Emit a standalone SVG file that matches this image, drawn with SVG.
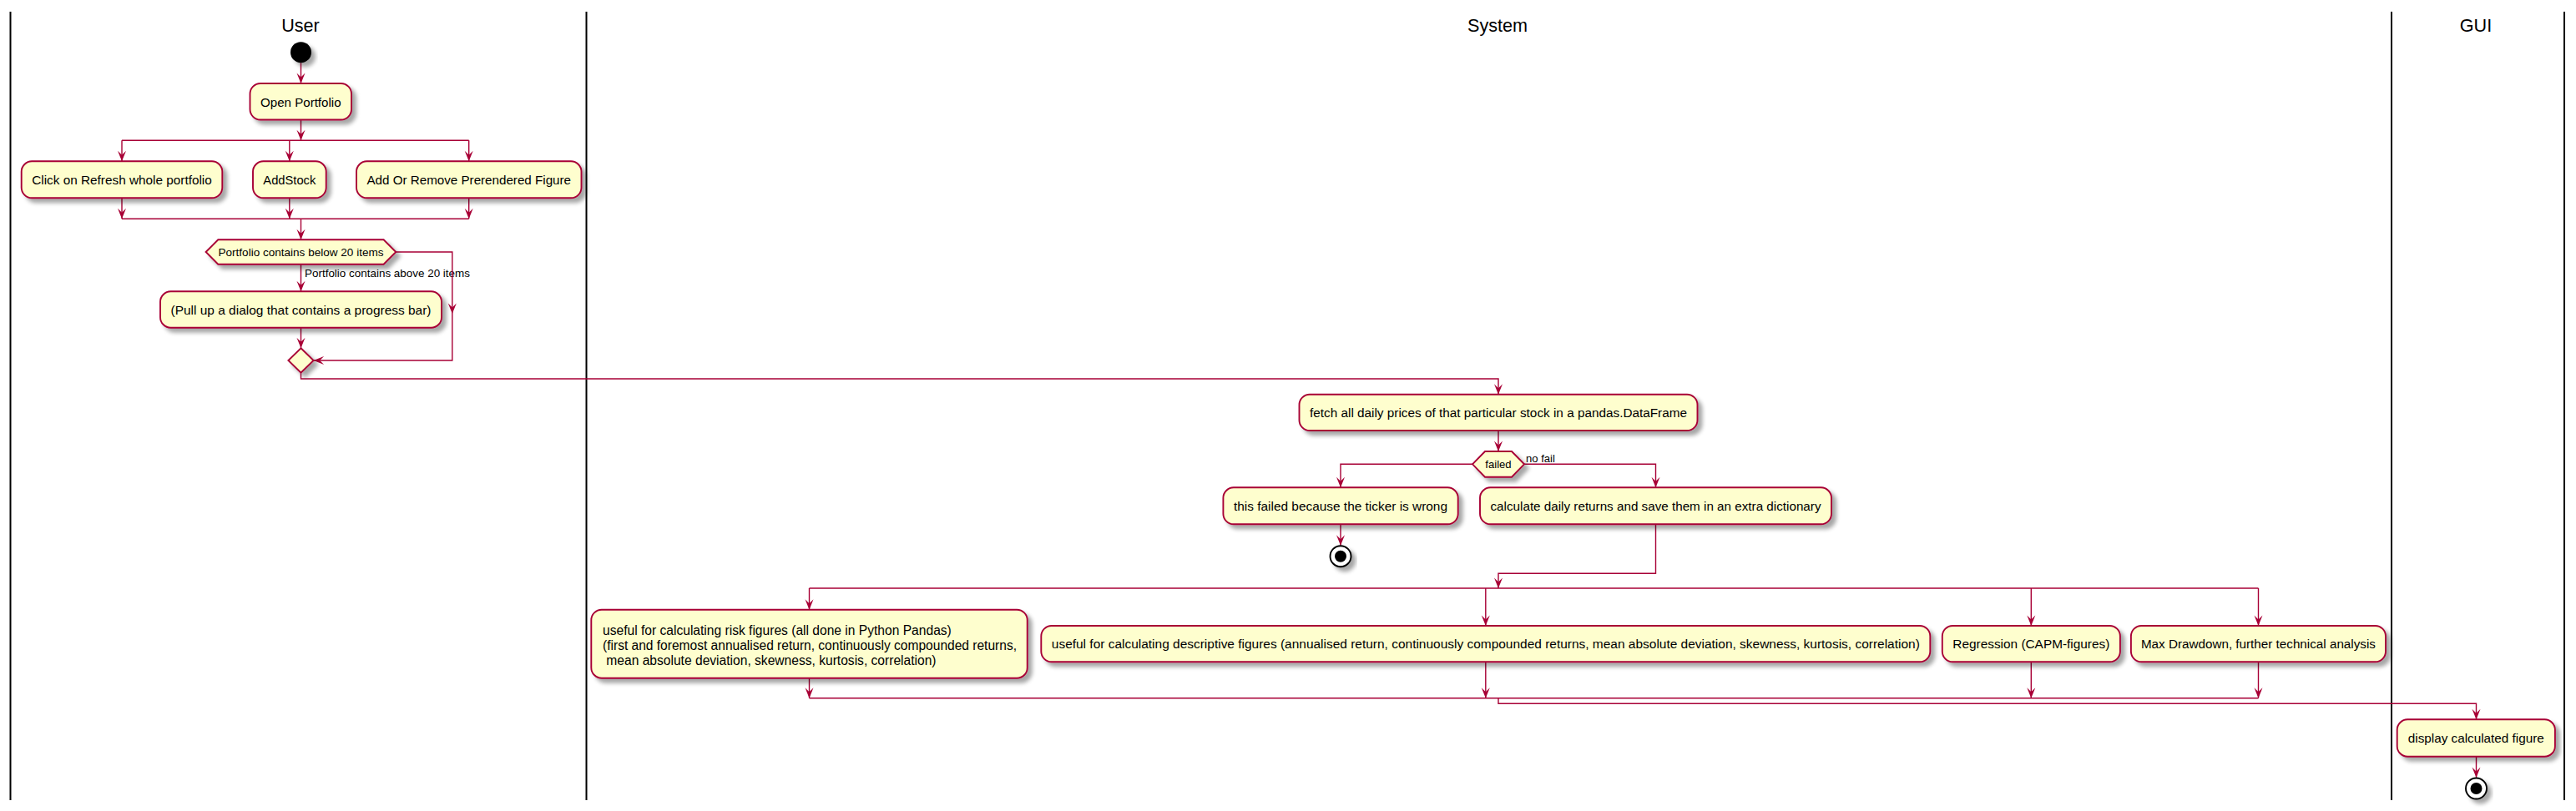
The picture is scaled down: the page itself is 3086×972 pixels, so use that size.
<svg xmlns="http://www.w3.org/2000/svg" width="3086" height="972" viewBox="0 0 3086 972">
<defs>
<style>
.lane{stroke:#000;stroke-width:2;fill:none}
.title{font-family:"Liberation Sans",Arial,sans-serif;font-size:21.6px;fill:#000;text-anchor:middle}
.box{fill:#FEFECE;stroke:#A80036;stroke-width:1.9}
.sh{filter:url(#sh)}
.t{font-family:"Liberation Sans",Arial,sans-serif;font-size:15.3px;fill:#000;text-anchor:middle}
.tl{font-family:"Liberation Sans",Arial,sans-serif;font-size:15.6px;fill:#000;text-anchor:start}
.d{font-family:"Liberation Sans",Arial,sans-serif;font-size:13.1px;fill:#000;text-anchor:middle}
.dl{font-family:"Liberation Sans",Arial,sans-serif;font-size:13.1px;fill:#000;text-anchor:start}
.c{fill:none;stroke:#A80036;stroke-width:1.4}
.ca{fill:none;stroke:#A80036;stroke-width:1.4;marker-end:url(#arr)}
.ah{fill:#A80036}
</style>
<filter id="sh" x="-20%" y="-20%" width="150%" height="170%">
<feGaussianBlur in="SourceAlpha" stdDeviation="2.5" result="b"/>
<feOffset dx="5" dy="5" in="b" result="o"/>
<feComponentTransfer in="o" result="s"><feFuncA type="linear" slope="0.35"/></feComponentTransfer>
<feMerge><feMergeNode in="s"/><feMergeNode in="SourceGraphic"/></feMerge>
</filter>
<marker id="arr" markerUnits="userSpaceOnUse" markerWidth="14" markerHeight="12" orient="auto" overflow="visible" refX="0" refY="0">
<path d="M0,0 L-12.5,-5 L-7.5,0 L-12.5,5 Z" fill="#A80036"/>
</marker>
<path id="ahd" d="M0,0 L-5,-12.5 L0,-7.5 L5,-12.5 Z"/>
</defs>
<rect width="3086" height="972" fill="#fff"/>

<g id="lanes">
<line class="lane" x1="12.5" y1="14" x2="12.5" y2="959"/>
<line class="lane" x1="702.5" y1="14" x2="702.5" y2="959"/>
<line class="lane" x1="2865" y1="14" x2="2865" y2="959"/>
<line class="lane" x1="3072" y1="14" x2="3072" y2="959"/>
<text class="title" x="360" y="38">User</text>
<text class="title" x="1794" y="38">System</text>
<text class="title" x="2966" y="38">GUI</text>
</g>

<g id="connectors">
<path class="ca" d="M360.5,75.2 V100"/>
<path class="ca" d="M360.5,143.5 V168.3"/>
<path class="c" d="M146,168.3 H561.7"/>
<path class="ca" d="M146,168.3 V193.3"/>
<path class="ca" d="M346.8,168.3 V193.3"/>
<path class="ca" d="M561.7,168.3 V193.3"/>
<path class="ca" d="M146,237.3 V262.3"/>
<path class="ca" d="M346.8,237.3 V262.3"/>
<path class="ca" d="M561.7,237.3 V262.3"/>
<path class="c" d="M146,262.3 H561.7"/>
<path class="ca" d="M360.5,262.3 V287.3"/>
<path class="ca" d="M360.5,316.7 V349.3"/>
<text class="dl" x="365" y="331.7" textLength="198" lengthAdjust="spacingAndGlyphs">Portfolio contains above 20 items</text>
<path class="ca" d="M474.3,302 H541.8 V432 H375.6"/>
<use href="#ahd" class="ah" x="541.8" y="376"/>
<path class="ca" d="M360.5,392.7 V417.3"/>
<path class="ca" d="M360.5,446.7 V454 H1795 V472.7"/>
<path class="ca" d="M1795,516 V541"/>
<path class="ca" d="M1764,556.3 H1606 V584.3"/>
<path class="ca" d="M1826,556.3 H1983.5 V584.3"/>
<text class="dl" x="1828" y="553.5">no fail</text>
<path class="ca" d="M1606,628.3 V653.7"/>
<path class="ca" d="M1983.5,628.3 V687.3 H1795 V705"/>
<path class="c" d="M969.5,705 H2705.5"/>
<path class="ca" d="M969.5,705 V730.7"/>
<path class="ca" d="M1779.8,705 V750"/>
<path class="ca" d="M2433.3,705 V750"/>
<path class="ca" d="M2705.5,705 V750"/>
<path class="ca" d="M969.5,812.7 V836.7"/>
<path class="ca" d="M1779.8,793.3 V836.7"/>
<path class="ca" d="M2433.3,793.3 V836.7"/>
<path class="ca" d="M2705.5,793.3 V836.7"/>
<path class="c" d="M969.5,836.7 H2705.5"/>
<path class="ca" d="M1795,836.7 V843.3 H2966.5 V862.3"/>
<path class="ca" d="M2966.5,906.7 V932"/>
</g>

<g id="start">
<circle class="sh" cx="360.5" cy="62.7" r="12.5" fill="#000"/>
</g>
<g id="open_portfolio">
<rect class="box sh" x="299.5" y="100" width="121.5" height="43.5" rx="12.5"/>
<text class="t" x="360.3" y="127.5" textLength="96.5" lengthAdjust="spacingAndGlyphs">Open Portfolio</text>
</g>
<g id="refresh">
<rect class="box sh" x="25.7" y="193.3" width="240.6" height="44" rx="12.5"/>
<text class="t" x="146" y="220.8" textLength="215.6" lengthAdjust="spacingAndGlyphs">Click on Refresh whole portfolio</text>
</g>
<g id="addstock">
<rect class="box sh" x="303" y="193.3" width="87.7" height="44" rx="12.5"/>
<text class="t" x="346.85" y="220.8" textLength="63" lengthAdjust="spacingAndGlyphs">AddStock</text>
</g>
<g id="add_remove">
<rect class="box sh" x="427" y="193.3" width="269.5" height="44" rx="12.5"/>
<text class="t" x="561.75" y="220.8" textLength="244.5" lengthAdjust="spacingAndGlyphs">Add Or Remove Prerendered Figure</text>
</g>
<g id="decision_items">
<polygon class="box sh" points="246.6,302 261.3,287.3 459.6,287.3 474.3,302 459.6,316.7 261.3,316.7"/>
<text class="d" x="360.5" y="306.6" textLength="198" lengthAdjust="spacingAndGlyphs">Portfolio contains below 20 items</text>
</g>
<g id="pull_up">
<rect class="box sh" x="192" y="349.3" width="337" height="43.4" rx="12.5"/>
<text class="t" x="360.5" y="376.6" textLength="312" lengthAdjust="spacingAndGlyphs">(Pull up a dialog that contains a progress bar)</text>
</g>
<g id="merge">
<polygon class="box sh" points="360.5,417.3 375.6,432 360.5,446.7 345.4,432"/>
</g>
<g id="fetch">
<rect class="box sh" x="1556.5" y="472.7" width="477" height="43.3" rx="12.5"/>
<text class="t" x="1795" y="499.9" textLength="452" lengthAdjust="spacingAndGlyphs">fetch all daily prices of that particular stock in a pandas.DataFrame</text>
</g>
<g id="decision_failed">
<polygon class="box sh" points="1764,556.3 1779,541 1811,541 1826,556.3 1811,571.7 1779,571.7"/>
<text class="d" x="1795" y="561">failed</text>
</g>
<g id="ticker_wrong">
<rect class="box sh" x="1465.4" y="584.3" width="281.3" height="44" rx="12.5"/>
<text class="t" x="1606" y="611.8" textLength="256" lengthAdjust="spacingAndGlyphs">this failed because the ticker is wrong</text>
</g>
<g id="stop1" class="sh">
<circle cx="1606" cy="666.7" r="12.5" fill="#fff" stroke="#000" stroke-width="1.9"/>
<circle cx="1606" cy="666.7" r="7" fill="#000"/>
</g>
<g id="calc_returns">
<rect class="box sh" x="1773" y="584.3" width="421" height="44" rx="12.5"/>
<text class="t" x="1983.5" y="611.8" textLength="396" lengthAdjust="spacingAndGlyphs">calculate daily returns and save them in an extra dictionary</text>
</g>
<g id="risk">
<rect class="box sh" x="708.3" y="730.7" width="522.4" height="82" rx="12.5"/>
<text class="tl" x="722" y="760.5">useful for calculating risk figures (all done in Python Pandas)</text>
<text class="tl" x="722" y="778.8" textLength="496" lengthAdjust="spacingAndGlyphs">(first and foremost annualised return, continuously compounded returns,</text>
<text class="tl" x="722" y="797.2" xml:space="preserve"> mean absolute deviation, skewness, kurtosis, correlation)</text>
</g>
<g id="descriptive">
<rect class="box sh" x="1247.3" y="750" width="1065" height="43.3" rx="12.5"/>
<text class="t" x="1779.8" y="777.2" textLength="1040" lengthAdjust="spacingAndGlyphs">useful for calculating descriptive figures (annualised return, continuously compounded returns, mean absolute deviation, skewness, kurtosis, correlation)</text>
</g>
<g id="regression">
<rect class="box sh" x="2326.8" y="750" width="213.1" height="43.3" rx="12.5"/>
<text class="t" x="2433.35" y="777.2" textLength="188" lengthAdjust="spacingAndGlyphs">Regression (CAPM-figures)</text>
</g>
<g id="drawdown">
<rect class="box sh" x="2552.9" y="750" width="305.1" height="43.3" rx="12.5"/>
<text class="t" x="2705.45" y="777.2" textLength="281" lengthAdjust="spacingAndGlyphs">Max Drawdown, further technical analysis</text>
</g>
<g id="display">
<rect class="box sh" x="2871.7" y="862.3" width="189.2" height="44.4" rx="12.5"/>
<text class="t" x="2966.3" y="890" textLength="163" lengthAdjust="spacingAndGlyphs">display calculated figure</text>
</g>
<g id="stop2" class="sh">
<circle cx="2966.5" cy="945" r="12.5" fill="#fff" stroke="#000" stroke-width="1.9"/>
<circle cx="2966.5" cy="945" r="7" fill="#000"/>
</g>
</svg>
